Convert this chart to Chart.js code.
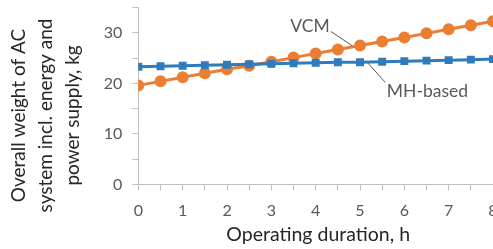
<!DOCTYPE html>
<html>
<head>
<meta charset="utf-8">
<script src="https://cdn.jsdelivr.net/npm/chart.js"></script>
<style>
html, body { margin: 0; padding: 0; overflow: hidden; background: #fff; }
#wrap { position: relative; top: -12px; width: 520px; height: 261px; }
</style>
</head>
<body>
<div id="wrap"><canvas id="chart"></canvas></div>
<script>
// operating duration, h
const hours = [0, 0.5, 1, 1.5, 2, 2.5, 3, 3.5, 4, 4.5, 5, 5.5, 6, 6.5, 7, 7.5, 8]
// overall weight, kg
const vcmWeight = [19.6, 20.4, 21.2, 22.0, 22.8, 23.5, 24.3, 25.1, 25.9, 26.7, 27.5, 28.3, 29.1, 29.9, 30.7, 31.5, 32.3]
const mhWeight = [23.3, 23.4, 23.5, 23.6, 23.7, 23.8, 23.9, 24.0, 24.1, 24.2, 24.2, 24.3, 24.4, 24.5, 24.6, 24.7, 24.8]

// padding spaces nudge the centred titles a bit, like the original
const yTitle = ['Overall weight of AC        ', 'system incl. energy and        ', 'power supply, kg        ']
const xTitle = ' Operating duration, h'

// series labels with leader lines: [text, textX, textY, lineFrom, lineTo]
const seriesNotes = [
    ['VCM', 3.87, 31.3, [4.34, 30.3], [4.83, 27.4]],
    ['MH-based', 6.52, 18.4, [5.17, 24.1], [5.57, 20.2]]
]

const orange = '#ED7D31'
const blue = '#2E7BBE'
const axisGrey = '#BFBFBF'

const notesPlugin = {
    id: 'notes',
    afterDatasetsDraw(chart) {
        const ctx = chart.ctx
        const xs = chart.scales.x
        const ys = chart.scales.y
        ctx.save()
        seriesNotes.forEach((n) => {
            ctx.strokeStyle = '#595959'
            ctx.lineWidth = 1
            ctx.beginPath()
            ctx.moveTo(xs.getPixelForValue(n[3][0]), ys.getPixelForValue(n[3][1]))
            ctx.lineTo(xs.getPixelForValue(n[4][0]), ys.getPixelForValue(n[4][1]))
            ctx.stroke()
            ctx.fillStyle = '#595959'
            ctx.font = '17.5px Lato'
            ctx.textAlign = 'center'
            ctx.textBaseline = 'middle'
            ctx.fillText(n[0], xs.getPixelForValue(n[1]), ys.getPixelForValue(n[2]))
        })
        ctx.restore()
    }
}

new Chart(document.getElementById('chart'), {
    type: 'line',
    data: {
        datasets: [{
            label: 'MH-based',
            data: hours.map((h, i) => ({ x: h, y: mhWeight[i] })),
            borderColor: blue,
            backgroundColor: blue,
            borderWidth: 3,
            pointStyle: 'rect',
            pointRadius: 3.5,
            pointHoverRadius: 3.5
        }, {
            label: 'VCM',
            data: hours.map((h, i) => ({ x: h, y: vcmWeight[i] })),
            borderColor: orange,
            backgroundColor: orange,
            borderWidth: 3,
            pointStyle: 'circle',
            pointRadius: 4.5,
            pointHoverRadius: 4.5
        }]
    },
    options: {
        responsive: true,
        maintainAspectRatio: false,
        animation: false,
        layout: { padding: { left: 6, right: 27, top: 0, bottom: 3 } },
        plugins: {
            legend: { display: false },
            tooltip: { enabled: false }
        },
        scales: {
            x: {
                type: 'linear',
                min: 0,
                max: 8,
                border: { color: axisGrey, width: 1 },
                grid: { drawOnChartArea: false, color: axisGrey, tickLength: 6 },
                ticks: {
                    stepSize: 0.5,
                    autoSkip: false,
                    maxRotation: 0,
                    padding: 11,
                    color: '#595959',
                    font: { family: 'Lato', size: 16 },
                    callback: (v) => Number.isInteger(v) ? v : ''
                },
                title: {
                    display: true,
                    text: xTitle,
                    color: '#262626',
                    font: { family: 'Lato', size: 19.5 },
                    padding: { top: -9, bottom: 0 }
                }
            },
            y: {
                min: 0,
                max: 35,
                border: { color: axisGrey, width: 1 },
                grid: { drawOnChartArea: false, color: axisGrey, tickLength: 6 },
                ticks: {
                    stepSize: 5,
                    padding: 10,
                    color: '#595959',
                    font: { family: 'Lato', size: 16 },
                    callback: (v) => v % 10 === 0 ? v : ''
                },
                title: {
                    display: true,
                    text: yTitle,
                    color: '#262626',
                    font: { family: 'Lato', size: 19, lineHeight: 1.4 },
                    padding: { top: 0, bottom: 8 }
                }
            }
        }
    },
    plugins: [notesPlugin]
});
</script>
</body>
</html>
